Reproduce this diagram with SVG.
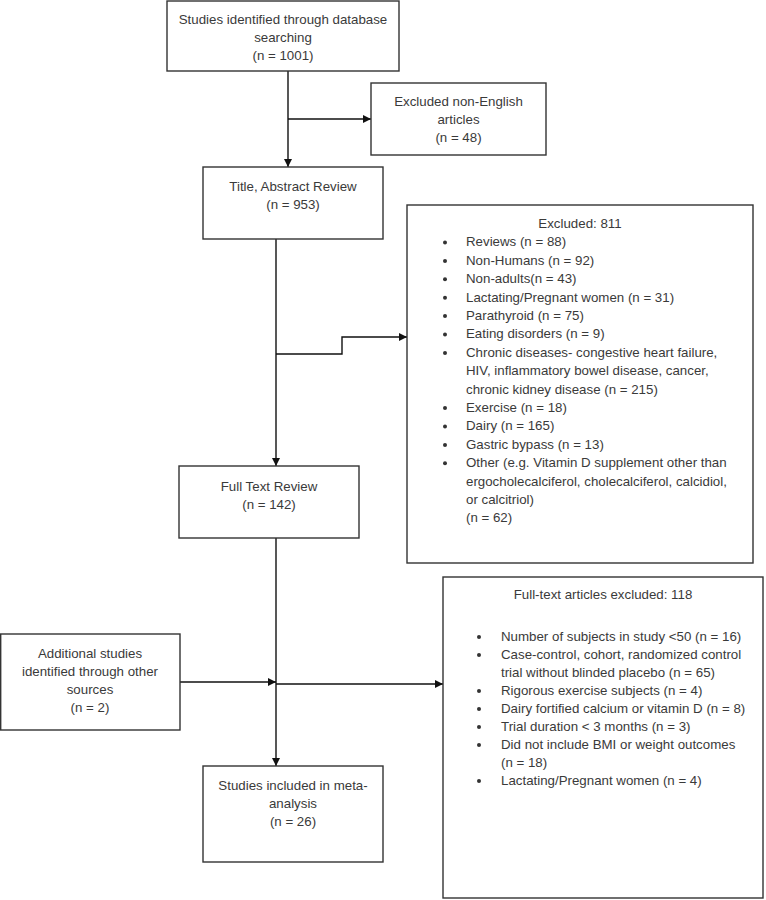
<svg xmlns="http://www.w3.org/2000/svg" width="766" height="900" viewBox="0 0 766 900">
<style>
  .box { fill: #ffffff; stroke: #333333; stroke-width: 1.4; }
  .t { font-family: "Liberation Sans", Arial, sans-serif; font-size: 13.3px; fill: #3a3a3a; }
  .c { text-anchor: middle; }
  .ln { fill: none; stroke: #111111; stroke-width: 1.4; }
  .dot { fill: #333333; }
</style>
<defs>
  <marker id="arr" viewBox="0 0 10 10" refX="10" refY="5" markerUnits="userSpaceOnUse" markerWidth="9" markerHeight="8" orient="auto">
    <path d="M0,0 L10,5 L0,10 z" fill="#111111"/>
  </marker>
</defs>
<rect width="766" height="900" fill="#ffffff"/>

<g id="connectors">
  <path class="ln" d="M288,71 V167" marker-end="url(#arr)"/>
  <path class="ln" d="M288,119 H371" marker-end="url(#arr)"/>
  <path class="ln" d="M276,239 V466" marker-end="url(#arr)"/>
  <path class="ln" d="M276,354 H342 V337 H407" marker-end="url(#arr)"/>
  <path class="ln" d="M276,538 V766" marker-end="url(#arr)"/>
  <path class="ln" d="M180,682 H276" marker-end="url(#arr)"/>
  <path class="ln" d="M276,684 H443" marker-end="url(#arr)"/>
</g>

<g id="identified">
  <rect class="box" x="167" y="1" width="232" height="70"/>
  <text class="t c" x="283" y="24">Studies identified through database</text>
  <text class="t c" x="283" y="42">searching</text>
  <text class="t c" x="283" y="60">(n = 1001)</text>
</g>

<g id="non-english">
  <rect class="box" x="371" y="83" width="175" height="72"/>
  <text class="t c" x="458.5" y="106">Excluded non-English</text>
  <text class="t c" x="458.5" y="124">articles</text>
  <text class="t c" x="458.5" y="142">(n = 48)</text>
</g>

<g id="title-abstract">
  <rect class="box" x="203" y="167" width="180" height="72"/>
  <text class="t c" x="293" y="191">Title, Abstract Review</text>
  <text class="t c" x="293" y="209">(n = 953)</text>
</g>

<g id="excluded-811">
  <rect class="box" x="407" y="205" width="346" height="358"/>
  <text class="t c" x="580" y="228">Excluded: 811</text>
  <circle class="dot" cx="445" cy="242.5" r="2"/>
  <text class="t" x="466" y="246.4">Reviews (n = 88)</text>
  <circle class="dot" cx="445" cy="260.9" r="2"/>
  <text class="t" x="466" y="264.8">Non-Humans (n = 92)</text>
  <circle class="dot" cx="445" cy="279.3" r="2"/>
  <text class="t" x="466" y="283.2">Non-adults(n = 43)</text>
  <circle class="dot" cx="445" cy="297.7" r="2"/>
  <text class="t" x="466" y="301.6">Lactating/Pregnant women (n = 31)</text>
  <circle class="dot" cx="445" cy="316.1" r="2"/>
  <text class="t" x="466" y="320">Parathyroid (n = 75)</text>
  <circle class="dot" cx="445" cy="334.5" r="2"/>
  <text class="t" x="466" y="338.4">Eating disorders (n = 9)</text>
  <circle class="dot" cx="445" cy="352.9" r="2"/>
  <text class="t" x="466" y="356.8">Chronic diseases- congestive heart failure,</text>
  <text class="t" x="466" y="375.2">HIV, inflammatory bowel disease, cancer,</text>
  <text class="t" x="466" y="393.6">chronic kidney disease (n = 215)</text>
  <circle class="dot" cx="445" cy="408.1" r="2"/>
  <text class="t" x="466" y="412">Exercise (n = 18)</text>
  <circle class="dot" cx="445" cy="426.5" r="2"/>
  <text class="t" x="466" y="430.4">Dairy (n = 165)</text>
  <circle class="dot" cx="445" cy="444.9" r="2"/>
  <text class="t" x="466" y="448.8">Gastric bypass (n = 13)</text>
  <circle class="dot" cx="445" cy="463.3" r="2"/>
  <text class="t" x="466" y="467.2">Other (e.g. Vitamin D supplement other than</text>
  <text class="t" x="466" y="485.6">ergocholecalciferol, cholecalciferol, calcidiol,</text>
  <text class="t" x="466" y="504">or calcitriol)</text>
  <text class="t" x="466" y="522.4"> (n = 62)</text>
</g>

<g id="full-text">
  <rect class="box" x="179" y="466" width="180" height="72"/>
  <text class="t c" x="269" y="491">Full Text Review</text>
  <text class="t c" x="269" y="509">(n = 142)</text>
</g>

<g id="additional">
  <rect class="box" x="0.7" y="634" width="179.3" height="96"/>
  <text class="t c" x="90" y="658">Additional studies</text>
  <text class="t c" x="90" y="676">identified through other</text>
  <text class="t c" x="90" y="694">sources</text>
  <text class="t c" x="90" y="712">(n = 2)</text>
</g>

<g id="fulltext-excluded">
  <rect class="box" x="443" y="577" width="320" height="321"/>
  <text class="t c" x="603" y="599">Full-text articles excluded: 118</text>
  <circle class="dot" cx="479" cy="637" r="2"/>
  <text class="t" x="501" y="641">Number of subjects in study &lt;50 (n = 16)</text>
  <circle class="dot" cx="479" cy="655" r="2"/>
  <text class="t" x="501" y="659">Case-control, cohort, randomized control</text>
  <text class="t" x="501" y="677">trial without blinded placebo (n = 65)</text>
  <circle class="dot" cx="479" cy="691" r="2"/>
  <text class="t" x="501" y="695">Rigorous exercise subjects (n = 4)</text>
  <circle class="dot" cx="479" cy="709" r="2"/>
  <text class="t" x="501" y="713">Dairy fortified calcium or vitamin D (n = 8)</text>
  <circle class="dot" cx="479" cy="727" r="2"/>
  <text class="t" x="501" y="731">Trial duration &lt; 3 months (n = 3)</text>
  <circle class="dot" cx="479" cy="745" r="2"/>
  <text class="t" x="501" y="749">Did not include BMI or weight outcomes</text>
  <text class="t" x="501" y="767">(n = 18)</text>
  <circle class="dot" cx="479" cy="781" r="2"/>
  <text class="t" x="501" y="785">Lactating/Pregnant women (n = 4)</text>
</g>

<g id="included">
  <rect class="box" x="203" y="766" width="180" height="96"/>
  <text class="t c" x="293" y="790">Studies included in meta-</text>
  <text class="t c" x="293" y="808">analysis</text>
  <text class="t c" x="293" y="826">(n = 26)</text>
</g>
</svg>
